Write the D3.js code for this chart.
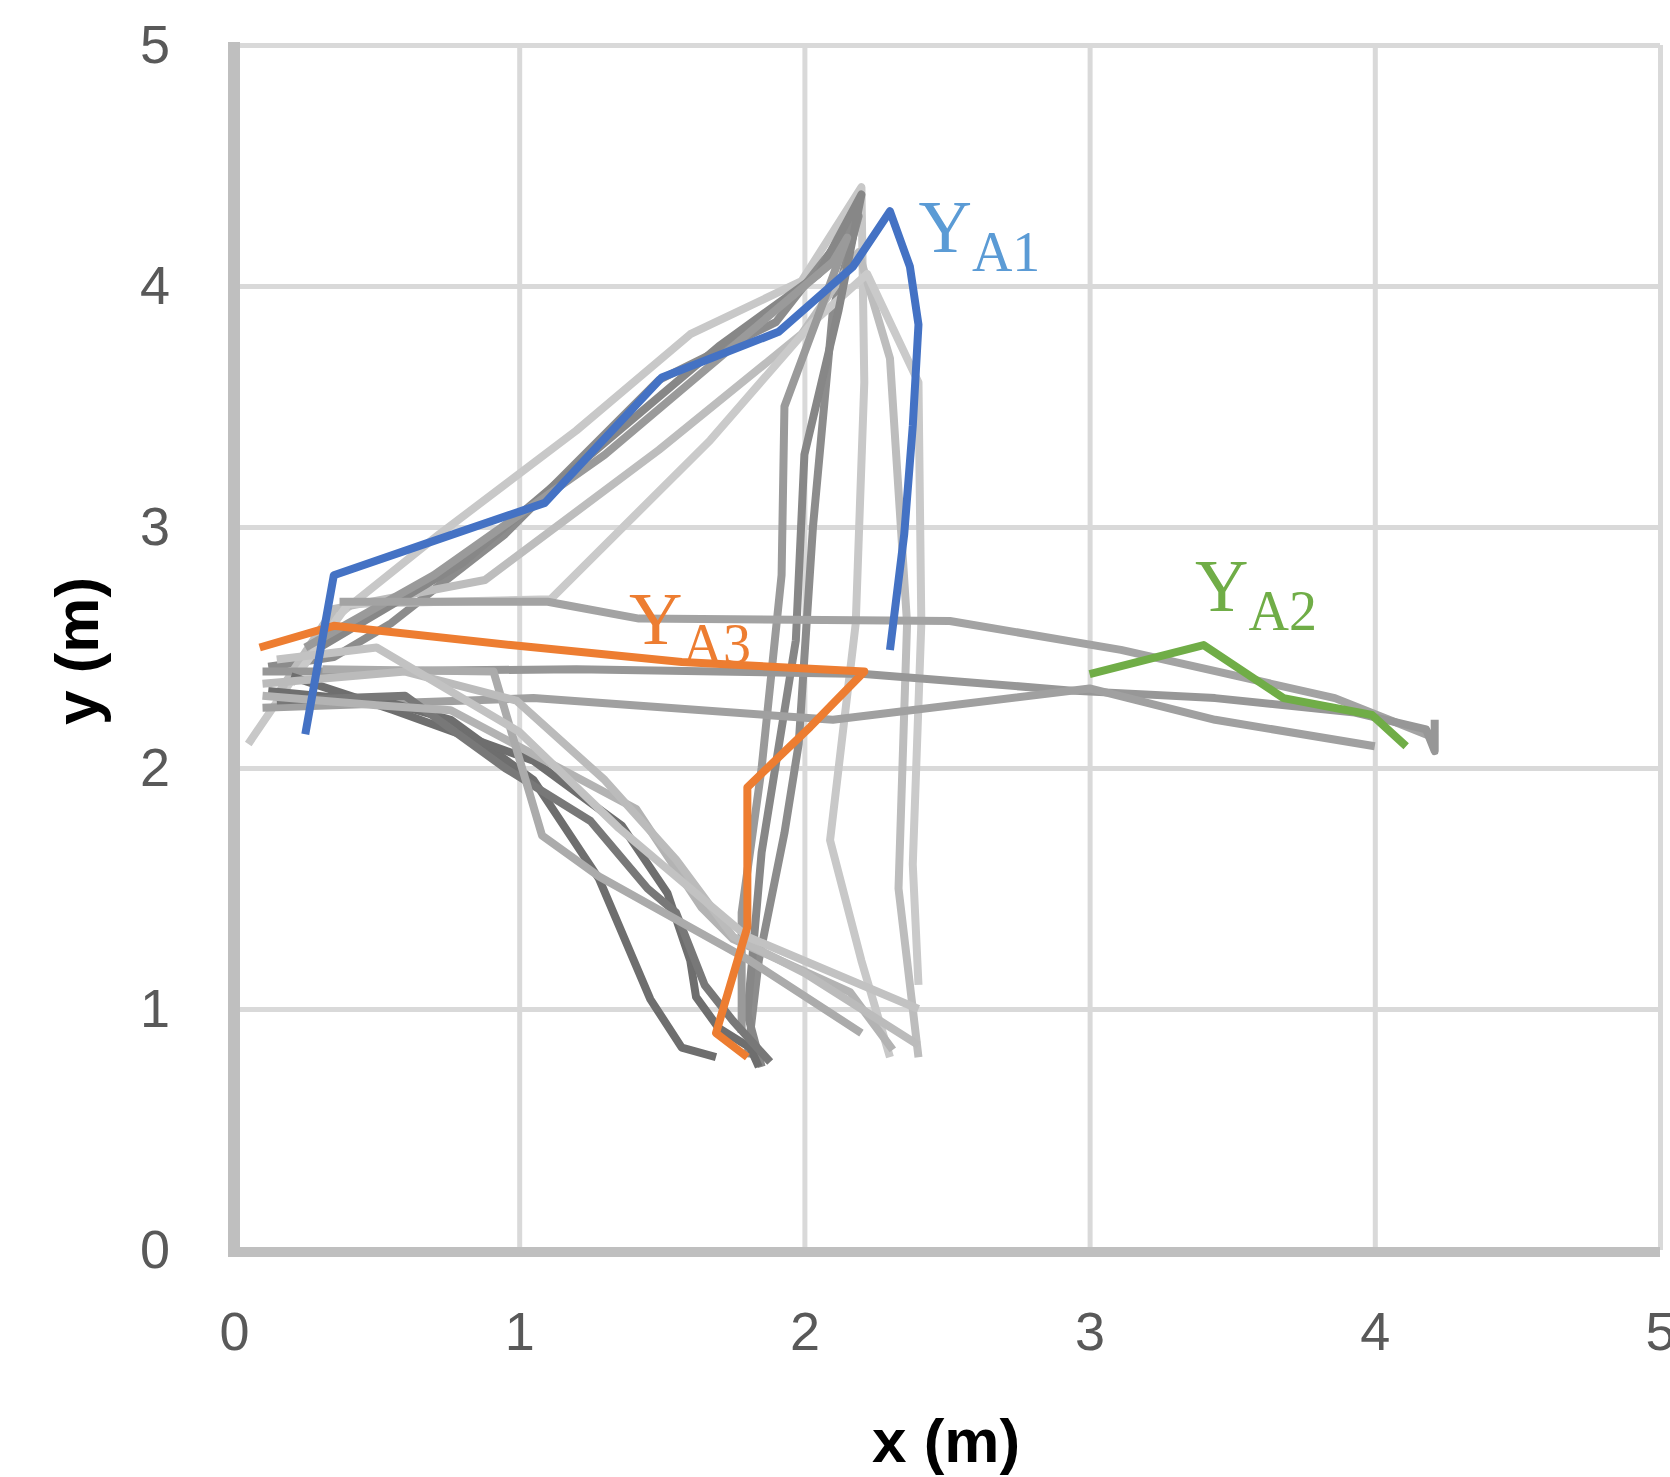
<!DOCTYPE html>
<html>
<head>
<meta charset="utf-8">
<title>Trajectories</title>
<script src="https://d3js.org/d3.v7.min.js"></script>
<style>
  body { margin: 0; background: #fff; }
</style>
</head>
<body>
<div id="viz_1"></div>

<script>

// ---- data (metres) ----
// coloured trials, one per target
var trackA1 = [[0.25,2.14],[0.35,2.80],[0.67,2.93],[1.09,3.10],[1.27,3.33],[1.50,3.62],[1.91,3.81],[2.17,4.08],[2.30,4.31],[2.37,4.08],[2.40,3.84],[2.38,3.42],[2.35,2.97],[2.30,2.49]]
var trackA2 = [[3.00,2.39],[3.40,2.51],[3.68,2.29],[3.99,2.22],[4.11,2.09]]
var trackA3 = [[0.09,2.50],[0.35,2.59],[0.97,2.51],[1.57,2.44],[2.21,2.40],[2.02,2.17],[1.80,1.92],[1.80,1.34],[1.69,0.90],[1.80,0.80]]

// grey trials (other runs)
var gray01 = [[0.05,2.10],[0.35,2.62],[0.72,2.97],[1.20,3.40],[1.60,3.80],[1.99,4.02],[2.20,4.41],[2.21,3.60],[2.18,2.60],[2.12,2.00],[2.09,1.70],[2.20,1.20],[2.30,0.80]]
var gray02 = [[0.12,2.42],[0.35,2.46],[0.55,2.60],[0.69,2.73],[0.95,2.97],[1.49,3.61],[1.90,3.85],[2.19,4.29],[2.10,3.90],[2.03,3.00],[1.98,2.10],[1.93,1.73],[1.84,1.20],[1.80,0.80]]
var gray03 = [[0.15,2.30],[0.35,2.66],[0.88,2.78],[1.49,3.32],[1.99,3.80],[2.19,4.14],[2.30,3.70],[2.36,2.60],[2.33,1.50],[2.40,0.80]]
var gray04 = [[0.20,2.35],[0.40,2.68],[1.11,2.70],[1.67,3.36],[2.03,3.85],[2.22,4.05],[2.40,3.60],[2.41,2.60],[2.38,1.60],[2.40,1.10]]
var gray05 = [[0.30,2.50],[0.80,2.85],[1.30,3.35],[1.70,3.75],[2.05,4.05],[2.20,4.38],[2.12,3.90],[2.00,3.30],[1.97,2.53],[1.85,1.65],[1.80,0.98],[1.85,0.76]]
var gray06 = [[0.25,2.50],[0.70,2.80],[1.30,3.30],[1.80,3.80],[2.10,4.10],[2.15,4.20],[1.93,3.50],[1.92,2.80],[1.85,2.00],[1.78,1.40],[1.78,0.90]]
var gray07 = [[0.37,2.69],[1.10,2.69],[1.42,2.62],[2.51,2.61],[3.11,2.49],[3.86,2.29],[4.20,2.13]]
var gray08 = [[0.10,2.40],[0.37,2.40],[1.20,2.41],[2.21,2.39],[2.95,2.32],[3.44,2.29],[3.93,2.23],[4.18,2.16],[4.21,2.07],[4.21,2.20]]
var gray09 = [[0.10,2.25],[1.05,2.29],[2.10,2.20],[3.00,2.33],[3.44,2.20],[4.00,2.09]]
var gray10 = [[0.12,2.32],[0.55,2.27],[0.76,2.20],[1.05,1.95],[1.28,1.54],[1.46,1.04],[1.57,0.84],[1.69,0.80]]
var gray11 = [[0.20,2.38],[0.56,2.24],[1.05,2.03],[1.36,1.76],[1.52,1.48],[1.60,1.20],[1.62,1.05],[1.70,0.92],[1.81,0.84],[1.84,0.76]]
var gray12 = [[0.15,2.28],[0.60,2.30],[0.95,2.00],[1.25,1.78],[1.45,1.50],[1.55,1.40],[1.65,1.10],[1.75,0.95],[1.88,0.78]]
var gray13 = [[0.10,2.30],[0.50,2.26],[0.76,2.24],[1.41,1.83],[1.64,1.42],[1.75,1.29],[2.16,1.07],[2.31,0.83]]
var gray14 = [[0.31,2.41],[0.91,2.40],[1.08,1.72],[1.28,1.55],[1.81,1.20],[2.20,0.90]]
var gray15 = [[0.10,2.35],[0.60,2.40],[0.99,2.28],[1.30,1.95],[1.55,1.62],[1.75,1.30],[2.00,1.15],[2.40,0.85]]
var gray16 = [[0.15,2.45],[0.50,2.50],[1.00,2.15],[1.35,1.75],[1.60,1.50],[1.80,1.30],[2.40,1.00]]

var grayTracks = [gray01, gray02, gray03, gray04, gray05, gray06, gray07, gray08,
                  gray09, gray10, gray11, gray12, gray13, gray14, gray15, gray16]

// target labels (subscript text and anchor in metres)
var labelNames = ["A1", "A2", "A3"]
var labelX = [2.40, 3.37, 1.385]
var labelY = [4.14, 2.65, 2.515]

var xTicks = [0, 1, 2, 3, 4, 5]
var yTicks = [0, 1, 2, 3, 4, 5]

// ---- styles ----
var grayShades = ["#c8c8c8", "#8c8c8c", "#bdbdbd", "#cacaca", "#878787", "#9a9a9a", "#a3a3a3", "#979797",
                  "#a0a0a0", "#6e6e6e", "#6e6e6e", "#787878", "#b3b3b3", "#ababab", "#bbbbbb", "#c2c2c2"]
var trackColors = ["#4472c4", "#70ad47", "#ed7d31"]
var labelColors = ["#5b9bd5", "#70ad47", "#ed7d31"]

// set the dimensions and margins of the graph
var W = 1670, H = 1477
var margin = {top: 45, right: 10, bottom: 227, left: 234},
    width = W - margin.left - margin.right,
    height = H - margin.top - margin.bottom;

var svg = d3.select("#viz_1")
  .append("svg")
    .attr("width", W)
    .attr("height", H)
  .append("g")
    .attr("transform", "translate(" + margin.left + "," + margin.top + ")");

var x = d3.scaleLinear().domain([0, 5]).range([0, width])
var y = d3.scaleLinear().domain([0, 5]).range([height, 0])

// gridlines
var xGrid = svg.append("g")
  .attr("transform", "translate(0," + height + ")")
  .call(d3.axisBottom(x).tickValues(xTicks.slice(1)).tickSize(-height).tickFormat(""))
xGrid.select(".domain").remove()
xGrid.selectAll("line").attr("stroke", "#d9d9d9").attr("stroke-width", 5)

var yGrid = svg.append("g")
  .call(d3.axisLeft(y).tickValues(yTicks.slice(1)).tickSize(-width).tickFormat(""))
yGrid.select(".domain").remove()
yGrid.selectAll("line").attr("stroke", "#d9d9d9").attr("stroke-width", 5)

// axis lines
svg.append("line")
  .attr("x1", x(0)).attr("x2", x(0))
  .attr("y1", y(5) - 3).attr("y2", y(0) + 7)
  .attr("stroke", "#bfbfbf").attr("stroke-width", 12)
svg.append("line")
  .attr("x1", x(0) - 6).attr("x2", x(5))
  .attr("y1", y(0) + 2).attr("y2", y(0) + 2)
  .attr("stroke", "#bfbfbf").attr("stroke-width", 10)

// tick labels
var xAxis = svg.append("g")
  .attr("transform", "translate(0," + height + ")")
  .call(d3.axisBottom(x).tickValues(xTicks).tickSize(0).tickPadding(62).tickFormat(d3.format("d")))
xAxis.select(".domain").remove()
xAxis.selectAll("text")
  .style("font-family", "'Liberation Sans', Arial, sans-serif")
  .style("font-size", "54px")
  .attr("fill", "#595959")

var yAxis = svg.append("g")
  .call(d3.axisLeft(y).tickValues(yTicks).tickSize(0).tickPadding(64).tickFormat(d3.format("d")))
yAxis.select(".domain").remove()
yAxis.selectAll("text")
  .style("font-family", "'Liberation Sans', Arial, sans-serif")
  .style("font-size", "54px")
  .attr("fill", "#595959")

// axis titles
svg.append("text")
  .attr("x", width / 2 - 1)
  .attr("y", height + 212)
  .attr("text-anchor", "middle")
  .style("font-family", "'Liberation Sans', Arial, sans-serif")
  .style("font-size", "62px")
  .style("font-weight", "bold")
  .text("x (m)")

svg.append("text")
  .attr("transform", "translate(" + (98 - margin.left) + "," + (651 - margin.top) + ") rotate(-90)")
  .attr("text-anchor", "middle")
  .style("font-family", "'Liberation Sans', Arial, sans-serif")
  .style("font-size", "62px")
  .style("font-weight", "bold")
  .text("y (m)")

// line generator
var line = d3.line()
  .x(function(d) { return x(d[0]) })
  .y(function(d) { return y(d[1]) })

// grey runs
svg.append("g")
  .selectAll("path")
  .data(grayTracks)
  .enter()
  .append("path")
    .attr("d", line)
    .attr("fill", "none")
    .attr("stroke", function(d, i) { return grayShades[i] })
    .attr("stroke-width", 8)
    .attr("stroke-linejoin", "round")

// coloured runs (orange under blue, green last)
var colored = [trackA3, trackA1, trackA2]
var coloredColors = [trackColors[2], trackColors[0], trackColors[1]]
svg.append("g")
  .selectAll("path")
  .data(colored)
  .enter()
  .append("path")
    .attr("d", line)
    .attr("fill", "none")
    .attr("stroke", function(d, i) { return coloredColors[i] })
    .attr("stroke-width", 8)
    .attr("stroke-linejoin", "round")

// target labels  Y with subscript
var labels = svg.append("g")
  .selectAll("text")
  .data(labelNames)
  .enter()
  .append("text")
    .attr("x", function(d, i) { return x(labelX[i]) })
    .attr("y", function(d, i) { return y(labelY[i]) })
    .attr("fill", function(d, i) { return labelColors[i] })
    .style("font-family", "'Liberation Serif', 'Times New Roman', serif")
    .style("font-size", "74px")

labels.append("tspan").text("Y")
labels.append("tspan")
  .attr("dy", 19)
  .style("font-size", "56px")
  .text(function(d) { return d })

</script>
</body>
</html>
